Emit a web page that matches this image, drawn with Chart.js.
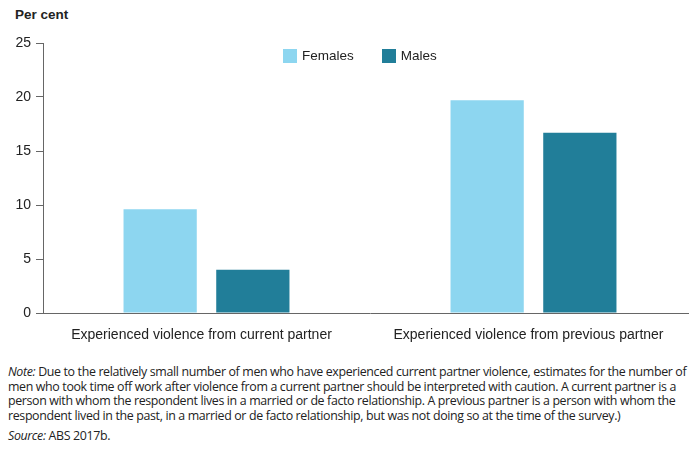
<!DOCTYPE html>
<html>
<head>
<meta charset="UTF-8">
<script src="https://cdn.jsdelivr.net/npm/chart.js@4"></script>
<title>Time off work after partner violence</title>
<style>
  body { margin: 0; background: #fff; overflow: hidden; width: 689px; height: 457px; position: relative; }
  #unit { position: absolute; left: 15px; top: 7px; font: bold 13.5px "Liberation Sans", Arial, sans-serif; color: #222; }
  #chartBox { position: absolute; left: 0; top: 0; width: 697px; height: 345px; }
  #legend { position: absolute; top: 48px; left: 283px; font: 13.5px "Liberation Sans", Arial, sans-serif; color: #222; display: flex; }
  #legend span.item { display: flex; align-items: center; margin-right: 28px; }
  #legend span.sw { display: inline-block; width: 14px; height: 14px; margin-right: 5px; }
  #notes { position: absolute; left: 8px; top: 365px; width: 684px; font: 12.4px "Open Sans", sans-serif; color: #222; letter-spacing: -0.35px; }
  #notes div { white-space: nowrap; line-height: 14.5px; height: 14.5px; }
  #notes div.src { margin-top: 6px; }
</style>
</head>
<body>
  <div id="unit">Per cent</div>
  <div id="chartBox"><canvas id="partnerChart" width="697" height="345"></canvas></div>
  <div id="legend"></div>
  <div id="notes">
    <div><i>Note:</i> Due to the relatively small number of men who have experienced current partner violence, estimates for the number of</div>
    <div>men who took time off work after violence from a current partner should be interpreted with caution. A current partner is a</div>
    <div>person with whom the respondent lives in a married or de facto relationship. A previous partner is a person with whom the</div>
    <div>respondent lived in the past, in a married or de facto relationship, but was not doing so at the time of the survey.)</div>
    <div class="src"><i>Source:</i> ABS 2017b.</div>
  </div>
<script>
var categories = ['Experienced violence from current partner', 'Experienced violence from previous partner'];
var females = [9.6, 19.7];
var males = [4.0, 16.7];
var yTicks = [0, 5, 10, 15, 20, 25];

var femaleColour = '#8dd6f0';
var maleColour = '#217e99';
var axisColour = '#666666';

const config = {
  type: 'bar',
  data: {
    labels: categories,
    datasets: [
      { label: 'Females', data: females, backgroundColor: femaleColour },
      { label: 'Males', data: males, backgroundColor: maleColour }
    ]
  },
  options: {
    responsive: false,
    animation: false,
    categoryPercentage: 0.567,
    barPercentage: 0.79,
    layout: { padding: { top: 43, left: 0, right: 0, bottom: 0 } },
    plugins: { legend: { display: false }, tooltip: { enabled: false } },
    scales: {
      x: {
        grid: { display: false },
        border: { color: axisColour, width: 1 },
        ticks: { color: '#222', font: { family: 'Liberation Sans', size: 14 }, padding: 6, labelOffset: -5, maxRotation: 0 },
        afterFit: function(scale) { scale.height = 32; }
      },
      y: {
        min: 0,
        max: 25,
        afterBuildTicks: function(scale) { scale.ticks = yTicks.map(v => ({ value: v })); },
        grid: { drawOnChartArea: false, tickLength: 7, color: axisColour, lineWidth: 1 },
        border: { color: axisColour, width: 1 },
        ticks: { color: '#222', font: { family: 'Liberation Sans', size: 14 }, padding: 5 },
        afterFit: function(scale) { scale.width = 43; }
      }
    }
  }
};

var partnerChart = new Chart(document.getElementById('partnerChart'), config);

// legend built from the dataset labels and colours
var legend = document.getElementById('legend');
partnerChart.data.datasets.forEach(function(ds) {
  var item = document.createElement('span');
  item.className = 'item';
  item.innerHTML = '<span class="sw" style="background:' + ds.backgroundColor + '"></span>' + ds.label;
  legend.appendChild(item);
});
</script>
</body>
</html>
